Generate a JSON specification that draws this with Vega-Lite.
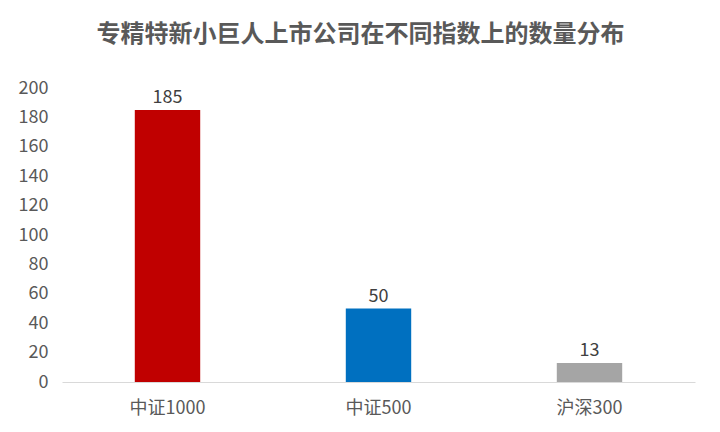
{
  "$schema": "https://vega.github.io/schema/vega-lite/v6.json",
  "width": 633,
  "height": 294,
  "autosize": {"type": "none"},
  "padding": {"left": 62, "top": 88, "right": 25, "bottom": 50},
  "background": "white",
  "config": {"view": {"stroke": null}},
  "title": {
    "text": "专精特新小巨人上市公司在不同指数上的数量分布",
    "fontSize": 24,
    "fontWeight": "bold",
    "color": "#595959",
    "font": "Noto Sans CJK SC",
    "anchor": "middle",
    "dx": -18,
    "offset": 32
  },
  "data": {
    "values": [
      {"index": "中证1000", "count": 185},
      {"index": "中证500", "count": 50},
      {"index": "沪深300", "count": 13}
    ]
  },
  "encoding": {
    "x": {
      "field": "index",
      "type": "nominal",
      "sort": null,
      "scale": {"paddingInner": 0.69, "paddingOuter": 0.345},
      "axis": {
        "title": null,
        "labelAngle": 0,
        "labelFontSize": 18,
        "labelColor": "#595959",
        "labelFont": "Noto Sans CJK SC",
        "labelPadding": 17,
        "ticks": false,
        "domainColor": "#D9D9D9",
        "domainWidth": 1
      }
    },
    "y": {
      "field": "count",
      "type": "quantitative",
      "scale": {"domain": [0, 200]},
      "axis": {
        "title": null,
        "values": [0, 20, 40, 60, 80, 100, 120, 140, 160, 180, 200],
        "labelFontSize": 18,
        "labelColor": "#595959",
        "labelFont": "Noto Sans CJK SC",
        "labelPadding": 14,
        "ticks": false,
        "domain": false,
        "grid": false
      }
    }
  },
  "layer": [
    {
      "mark": {"type": "bar"},
      "encoding": {
        "color": {
          "field": "index",
          "type": "nominal",
          "scale": {"domain": ["中证1000", "中证500", "沪深300"], "range": ["#C00000", "#0070C0", "#A5A5A5"]},
          "legend": null
        }
      }
    },
    {
      "mark": {"type": "text", "dy": -12, "fontSize": 18, "color": "#404040", "font": "Noto Sans CJK SC"},
      "encoding": {"text": {"field": "count", "type": "quantitative"}}
    }
  ]
}
